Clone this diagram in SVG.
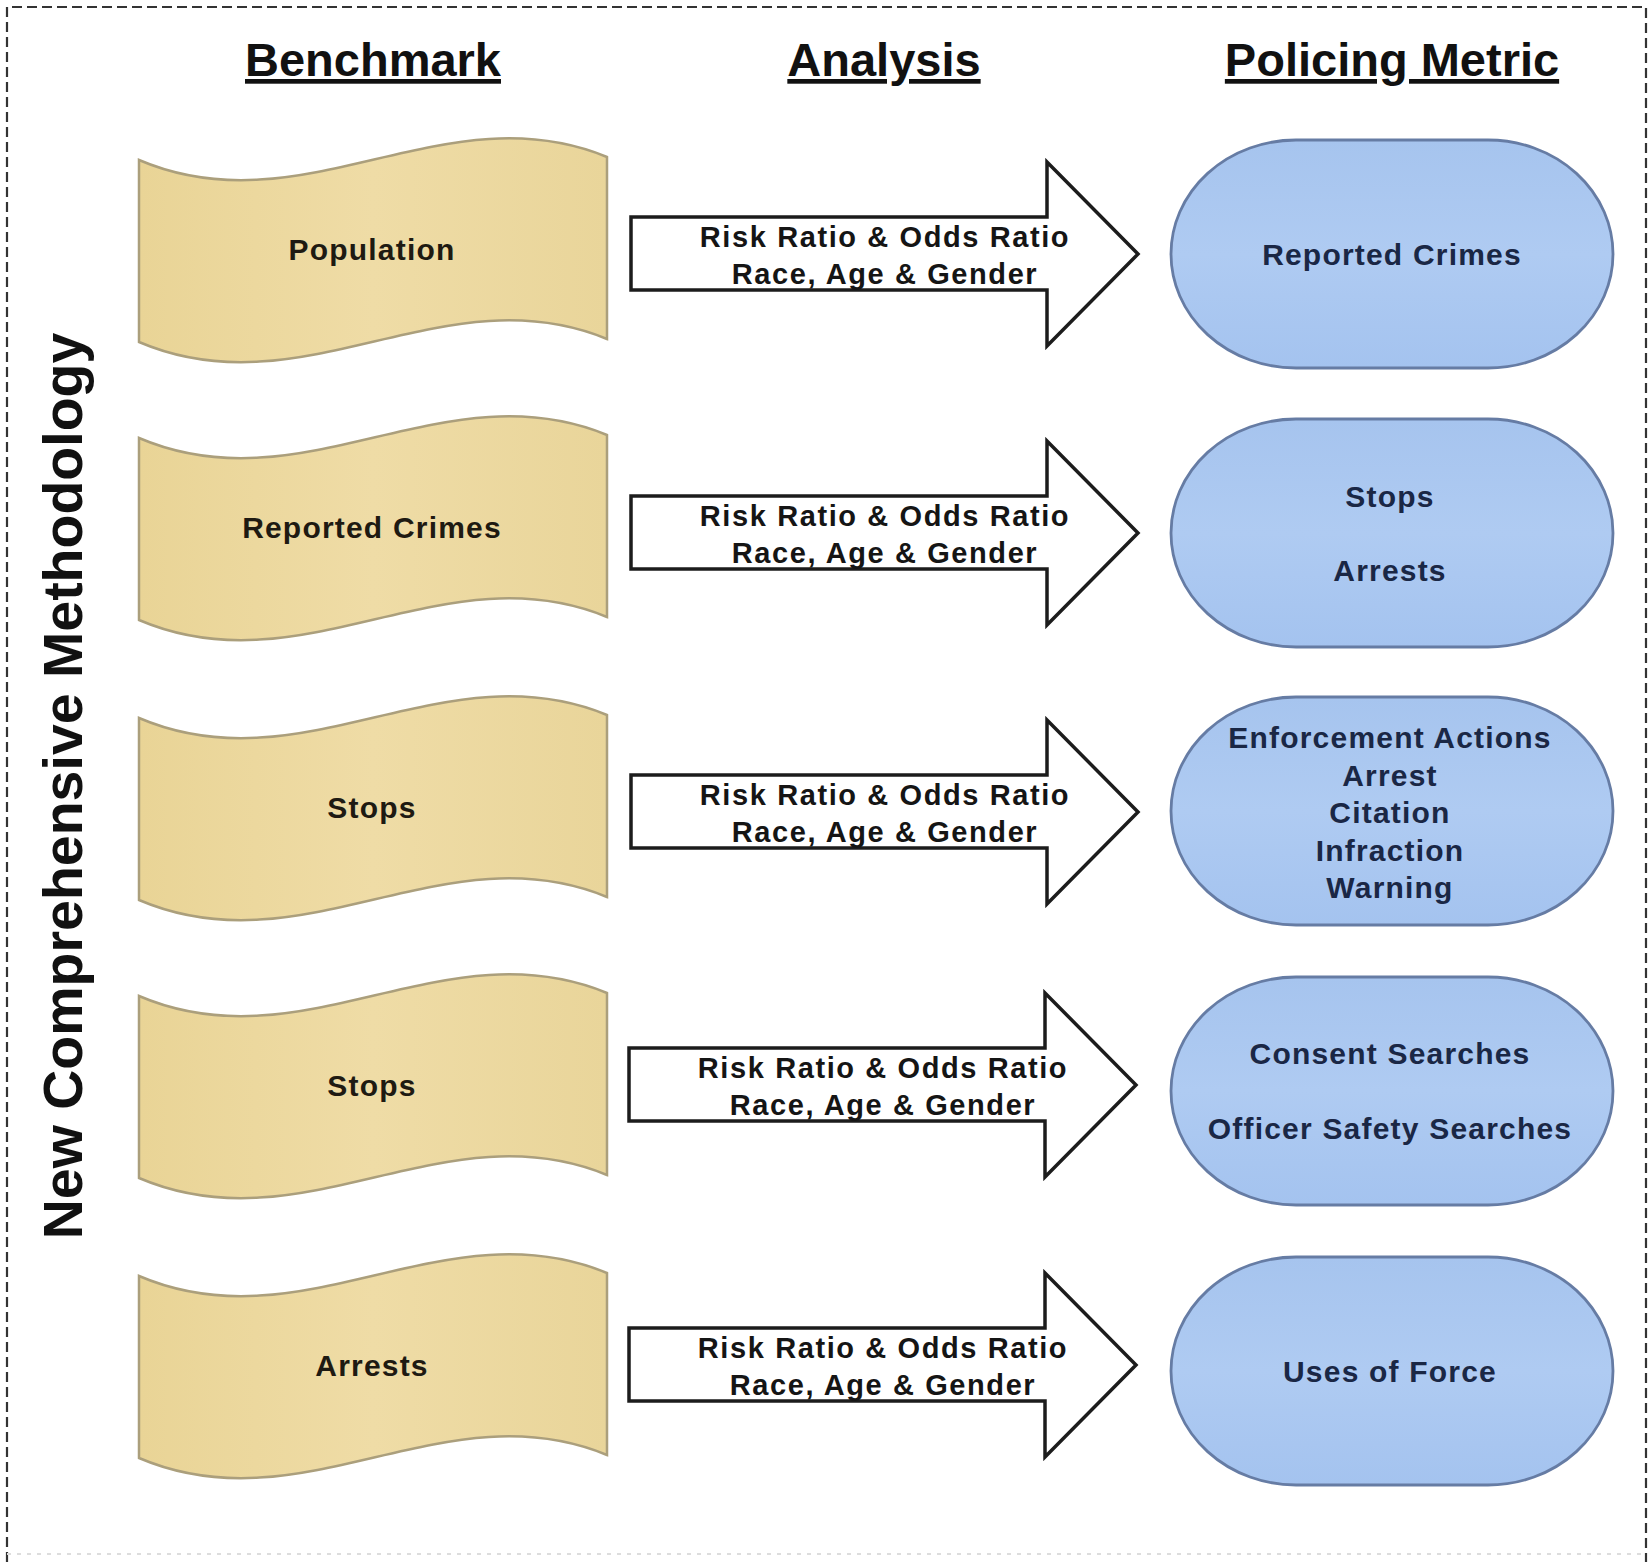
<svg xmlns="http://www.w3.org/2000/svg" width="1652" height="1564" viewBox="0 0 1652 1564">
<style>
  .title { font-family: "Liberation Sans", Arial, sans-serif; font-weight: bold; font-size: 47px; fill: #111; text-anchor: middle; text-decoration: underline; }
  .side { font-family: "Liberation Sans", Arial, sans-serif; font-weight: bold; font-size: 55.5px; fill: #111; text-anchor: middle; }
  .wave { fill: url(#tan); stroke: #ab9f7c; stroke-width: 2.5; }
  .wtext { font-family: "Liberation Sans", Arial, sans-serif; font-weight: bold; font-size: 30px; letter-spacing: 1.2px; fill: #1e1a12; text-anchor: middle; }
  .arrow { fill: #fff; stroke: #1c1c1c; stroke-width: 3.5; stroke-linejoin: miter; }
  .atext { font-family: "Liberation Sans", Arial, sans-serif; font-weight: bold; font-size: 29px; letter-spacing: 1.6px; fill: #151515; text-anchor: middle; }
  .pill { fill: url(#blue); stroke: #667ca4; stroke-width: 2.8; }
  .ptext { font-family: "Liberation Sans", Arial, sans-serif; font-weight: bold; font-size: 30px; letter-spacing: 1.2px; fill: #1a2745; text-anchor: middle; }
</style>
<defs>
  <linearGradient id="tan" x1="0" y1="0" x2="1" y2="0">
    <stop offset="0" stop-color="#e9d496"/>
    <stop offset="0.5" stop-color="#efdca6"/>
    <stop offset="1" stop-color="#e9d59a"/>
  </linearGradient>
  <linearGradient id="blue" x1="0" y1="0" x2="0" y2="1">
    <stop offset="0" stop-color="#a6c4ee"/>
    <stop offset="0.5" stop-color="#afcbf2"/>
    <stop offset="1" stop-color="#a4c3ef"/>
  </linearGradient>
  <path id="waveShape" class="wave" d="M139,-90 C303,-20 444,-160 607,-93 L607,89 C444,22 303,162 139,92 Z"/>
  <path id="arrowShape" class="arrow" d="M631,-37 L1047,-37 L1047,-92 L1138,0 L1047,92 L1047,36 L631,36 Z"/>
</defs>
<rect x="0" y="0" width="1652" height="1564" fill="#ffffff"/>
<path d="M7,1562 L7,7 L1646,7 L1646,1562" fill="none" stroke="#333" stroke-width="2.2" stroke-dasharray="10,5"/>
<line x1="7" y1="1554" x2="1646" y2="1554" stroke="#ddd" stroke-width="2" stroke-dasharray="4,6"/>

<g id="titles">
  <text class="title" x="373" y="76">Benchmark</text>
  <text class="title" x="884" y="76">Analysis</text>
  <text class="title" x="1392" y="76">Policing Metric</text>
</g>
<g id="side-label">
  <text class="side" transform="translate(82,786) rotate(-90)">New Comprehensive Methodology</text>
</g>

<g id="benchmarks">
  <g id="bench-population" transform="translate(0,250)"><use href="#waveShape"/><text class="wtext" x="372" y="10">Population</text></g>
  <g id="bench-reported-crimes" transform="translate(0,528)"><use href="#waveShape"/><text class="wtext" x="372" y="10">Reported Crimes</text></g>
  <g id="bench-stops-1" transform="translate(0,808)"><use href="#waveShape"/><text class="wtext" x="372" y="10">Stops</text></g>
  <g id="bench-stops-2" transform="translate(0,1086)"><use href="#waveShape"/><text class="wtext" x="372" y="10">Stops</text></g>
  <g id="bench-arrests" transform="translate(0,1366)"><use href="#waveShape"/><text class="wtext" x="372" y="10">Arrests</text></g>
</g>

<g id="connectors">
  <g id="arrow-1" transform="translate(0,254)"><use href="#arrowShape"/><text class="atext" x="885" y="-7">Risk Ratio &amp; Odds Ratio</text><text class="atext" x="885" y="30">Race, Age &amp; Gender</text></g>
  <g id="arrow-2" transform="translate(0,533)"><use href="#arrowShape"/><text class="atext" x="885" y="-7">Risk Ratio &amp; Odds Ratio</text><text class="atext" x="885" y="30">Race, Age &amp; Gender</text></g>
  <g id="arrow-3" transform="translate(0,812)"><use href="#arrowShape"/><text class="atext" x="885" y="-7">Risk Ratio &amp; Odds Ratio</text><text class="atext" x="885" y="30">Race, Age &amp; Gender</text></g>
  <g id="arrow-4" transform="translate(-2,1085)"><use href="#arrowShape"/><text class="atext" x="885" y="-7">Risk Ratio &amp; Odds Ratio</text><text class="atext" x="885" y="30">Race, Age &amp; Gender</text></g>
  <g id="arrow-5" transform="translate(-2,1365)"><use href="#arrowShape"/><text class="atext" x="885" y="-7">Risk Ratio &amp; Odds Ratio</text><text class="atext" x="885" y="30">Race, Age &amp; Gender</text></g>
</g>

<g id="metrics">
  <g id="metric-reported-crimes">
    <rect class="pill" x="1171" y="140" width="442" height="228" rx="125" ry="114"/>
    <text class="ptext" x="1392" y="265">Reported Crimes</text>
  </g>
  <g id="metric-stops-arrests">
    <rect class="pill" x="1171" y="419" width="442" height="228" rx="125" ry="114"/>
    <text class="ptext" x="1390" y="507">Stops</text>
    <text class="ptext" x="1390" y="581">Arrests</text>
  </g>
  <g id="metric-enforcement">
    <rect class="pill" x="1171" y="697" width="442" height="228" rx="125" ry="114"/>
    <text class="ptext" x="1390" y="748">Enforcement Actions</text>
    <text class="ptext" x="1390" y="786">Arrest</text>
    <text class="ptext" x="1390" y="823">Citation</text>
    <text class="ptext" x="1390" y="861">Infraction</text>
    <text class="ptext" x="1390" y="898">Warning</text>
  </g>
  <g id="metric-searches">
    <rect class="pill" x="1171" y="977" width="442" height="228" rx="125" ry="114"/>
    <text class="ptext" x="1390" y="1064">Consent Searches</text>
    <text class="ptext" x="1390" y="1139">Officer Safety Searches</text>
  </g>
  <g id="metric-force">
    <rect class="pill" x="1171" y="1257" width="442" height="228" rx="125" ry="114"/>
    <text class="ptext" x="1390" y="1382">Uses of Force</text>
  </g>
</g>
</svg>
